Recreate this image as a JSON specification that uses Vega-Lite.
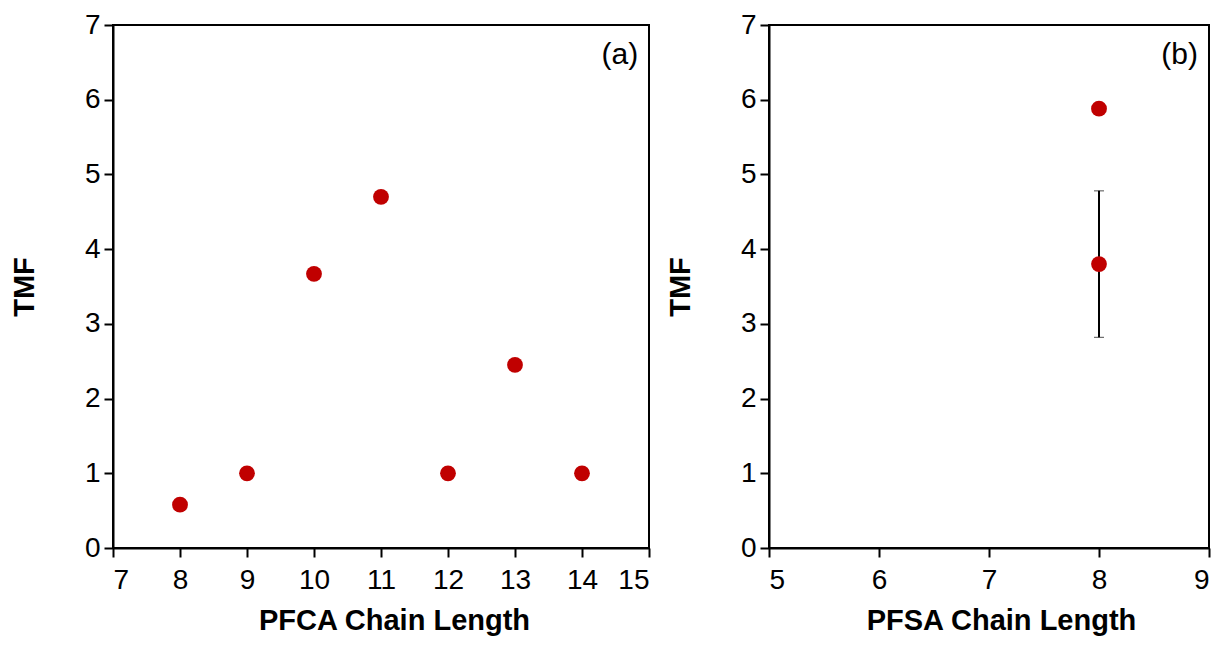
{
  "$schema": "https://vega.github.io/schema/vega-lite/v6.json",
  "background": "white",
  "padding": {"left": 9, "top": 10, "right": 10, "bottom": 5},
  "bounds": "flush",
  "spacing": 120,
  "config": {
    "font": "Liberation Sans",
    "view": {"stroke": "black", "strokeWidth": 2},
    "axis": {
      "grid": false,
      "domainColor": "black",
      "domainWidth": 2,
      "tickColor": "black",
      "tickWidth": 2,
      "tickSize": 9,
      "labelFont": "Liberation Sans",
      "labelFontSize": 28,
      "labelColor": "black",
      "labelPadding": 4,
      "format": "d",
      "titleFont": "Liberation Sans",
      "titleFontSize": 29,
      "titleFontWeight": "bold",
      "titleColor": "black"
    },
    "axisX": {"labelPadding": 9, "titlePadding": 12},
    "axisY": {"titlePadding": 45}
  },
  "datasets": {
    "pfca": [
      {"chain": 8, "tmf": 0.58},
      {"chain": 9, "tmf": 1.0},
      {"chain": 10, "tmf": 3.67},
      {"chain": 11, "tmf": 4.7},
      {"chain": 12, "tmf": 1.0},
      {"chain": 13, "tmf": 2.45},
      {"chain": 14, "tmf": 1.0}
    ],
    "pfsa": [
      {"chain": 8, "tmf": 5.88, "lo": null, "hi": null},
      {"chain": 8, "tmf": 3.8, "lo": 2.82, "hi": 4.78}
    ]
  },
  "hconcat": [
    {
      "width": 536,
      "height": 523,
      "layer": [
        {
          "data": {"name": "pfca"},
          "mark": {"type": "circle", "size": 250, "color": "#c00000", "opacity": 1},
          "encoding": {
            "x": {"field": "chain", "type": "quantitative", "scale": {"domain": [7, 15], "nice": false, "zero": false},
                  "axis": {"values": [7, 8, 9, 10, 11, 12, 13, 14, 15], "title": "PFCA Chain Length", "titleX": 281, "titleAlign": "center"}},
            "y": {"field": "tmf", "type": "quantitative", "scale": {"domain": [0, 7], "nice": false},
                  "axis": {"values": [0, 1, 2, 3, 4, 5, 6, 7], "title": "TMF"}}
          }
        },
        {
          "data": {"values": [{"label": "(a)"}]},
          "mark": {"type": "text", "align": "right", "baseline": "middle", "fontSize": 30, "font": "Liberation Sans", "color": "black"},
          "encoding": {
            "x": {"datum": 14.84, "type": "quantitative"},
            "y": {"datum": 6.6, "type": "quantitative"},
            "text": {"field": "label"}
          }
        }
      ]
    },
    {
      "width": 440,
      "height": 523,
      "layer": [
        {
          "data": {"name": "pfsa"},
          "transform": [{"filter": "datum.lo != null"}],
          "mark": {"type": "errorbar", "ticks": {"size": 10, "color": "black", "strokeWidth": 2}, "rule": {"color": "black", "strokeWidth": 2}},
          "encoding": {
            "x": {"field": "chain", "type": "quantitative", "scale": {"domain": [5, 9], "nice": false, "zero": false},
                  "axis": {"values": [5, 6, 7, 8, 9], "title": "PFSA Chain Length", "titleX": 232, "titleAlign": "center"}},
            "y": {"field": "lo", "type": "quantitative", "scale": {"domain": [0, 7], "nice": false},
                  "axis": {"values": [0, 1, 2, 3, 4, 5, 6, 7], "title": "TMF"}},
            "y2": {"field": "hi"}
          }
        },
        {
          "data": {"name": "pfsa"},
          "mark": {"type": "circle", "size": 250, "color": "#c00000", "opacity": 1},
          "encoding": {
            "x": {"field": "chain", "type": "quantitative", "scale": {"domain": [5, 9], "nice": false, "zero": false},
                  "axis": {"values": [5, 6, 7, 8, 9], "title": "PFSA Chain Length", "titleX": 232, "titleAlign": "center"}},
            "y": {"field": "tmf", "type": "quantitative", "scale": {"domain": [0, 7], "nice": false},
                  "axis": {"values": [0, 1, 2, 3, 4, 5, 6, 7], "title": "TMF"}}
          }
        },
        {
          "data": {"values": [{"label": "(b)"}]},
          "mark": {"type": "text", "align": "right", "baseline": "middle", "fontSize": 30, "font": "Liberation Sans", "color": "black"},
          "encoding": {
            "x": {"datum": 8.9, "type": "quantitative"},
            "y": {"datum": 6.6, "type": "quantitative"},
            "text": {"field": "label"}
          }
        }
      ]
    }
  ]
}
